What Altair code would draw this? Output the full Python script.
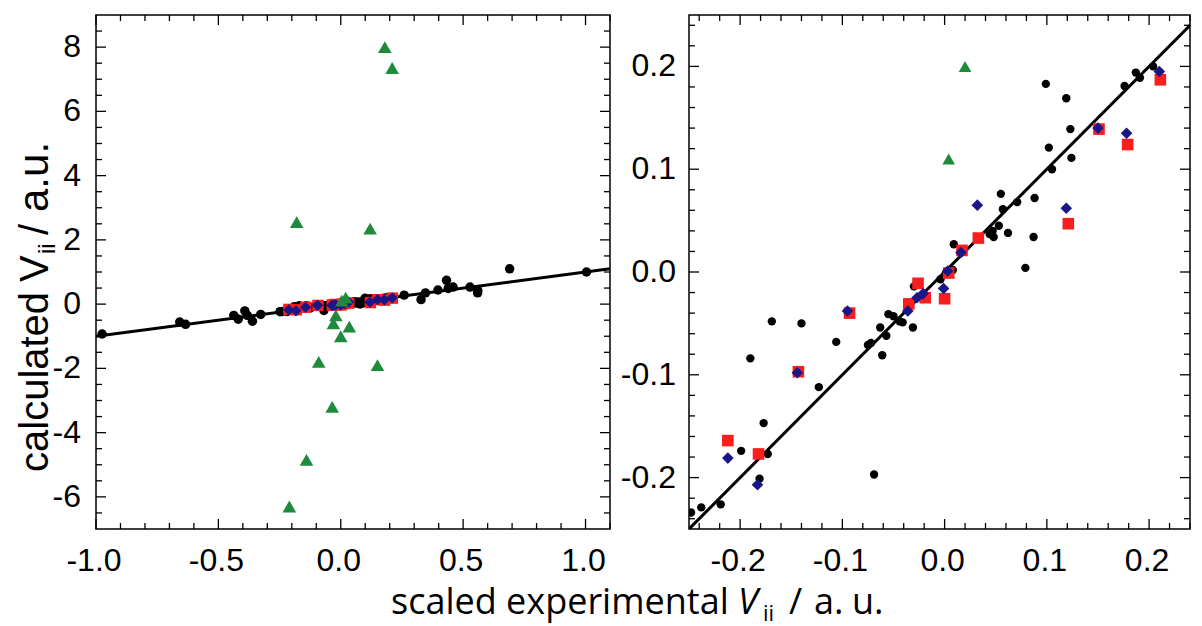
import altair as alt
import pandas as pd

# ---------------- data ----------------
# black circles
black_x = [-0.975, -0.658, -0.634, -0.437, -0.419, -0.392, -0.382, -0.361, -0.327,
           0.259, 0.328, 0.346, 0.397, 0.432, 0.439, 0.459, 0.528, 0.559, 0.56, 0.69, 1.004,
           -0.248, -0.238, -0.219, -0.199, -0.19, -0.181, -0.177, -0.173, -0.169, -0.14,
           -0.123, -0.106, -0.075, -0.072, -0.069, -0.063, -0.061, -0.057, -0.055, -0.05,
           -0.044, -0.041, -0.031, -0.03, -0.004, 0.001, 0.008, 0.009, 0.044, 0.048,
           0.047, 0.053, 0.055, 0.057, 0.062, 0.071, 0.079, 0.087, 0.088, 0.099,
           0.102, 0.105, 0.119, 0.123, 0.124, 0.176, 0.187, 0.191, 0.204]
black_y = [-0.93, -0.56, -0.63, -0.35, -0.47, -0.21, -0.35, -0.53, -0.32,
           0.28, 0.14, 0.35, 0.44, 0.74, 0.49, 0.53, 0.53, 0.35, 0.42, 1.1, 1.0,
           -0.234, -0.229, -0.226, -0.174, -0.084, -0.201, -0.147, -0.177, -0.048, -0.05,
           -0.112, -0.068, -0.071, -0.069, -0.197, -0.054, -0.081, -0.062, -0.041, -0.043,
           -0.048, -0.049, -0.054, -0.014, -0.007, -0.002, 0.002, 0.027, 0.037, 0.034,
           0.04, 0.045, 0.076, 0.061, 0.038, 0.068, 0.004, 0.034, 0.072, 0.183,
           0.121, 0.1, 0.169, 0.139, 0.111, 0.181, 0.194, 0.189, 0.2]
# red squares
red_x = [-0.212, -0.182, -0.143, -0.093, -0.035, -0.026, -0.019, 0.0, 0.004, 0.017,
         0.033, 0.121, 0.151, 0.179, 0.211]
red_y = [-0.164, -0.177, -0.097, -0.04, -0.031, -0.011, -0.025, -0.026, -0.001, 0.021,
         0.033, 0.047, 0.139, 0.124, 0.187]
# blue diamonds
blue_x = [-0.212, -0.183, -0.144, -0.095, -0.036, -0.027, -0.021, -0.001, 0.003, 0.016,
          0.032, 0.119, 0.15, 0.178, 0.21]
blue_y = [-0.181, -0.207, -0.098, -0.038, -0.038, -0.025, -0.021, -0.016, 0.001, 0.019,
          0.065, 0.062, 0.14, 0.135, 0.195]
# green triangles
green_x = [0.18, 0.21, -0.18, 0.12, 0.02, 0.004, -0.02, -0.03, 0.035, 0.0, -0.09, 0.15,
           -0.035, -0.14, -0.21]
green_y = [8.0, 7.35, 2.55, 2.35, 0.2, 0.11, -0.35, -0.6, -0.7, -1.0, -1.8, -1.9,
           -3.2, -4.85, -6.3]
# identity line y = x
line_x = [-1.0, 1.1]
line_y = [-1.0, 1.1]

# axis ticks and tick labels
L_xmajor = [-1.0, -0.5, 0.0, 0.5, 1.0]
L_xlabels = ["-1.0", "-0.5", "0.0", "0.5", "1.0"]
L_xminor = [-0.9, -0.8, -0.7, -0.6, -0.4, -0.3, -0.2, -0.1, 0.1, 0.2, 0.3, 0.4,
            0.6, 0.7, 0.8, 0.9, 1.1]
L_ymajor = [-6, -4, -2, 0, 2, 4, 6, 8]
L_ylabels = ["-6", "-4", "-2", "0", "2", "4", "6", "8"]
L_yminor = [-6.5, -5.5, -5, -4.5, -3.5, -3, -2.5, -1.5, -1, -0.5, 0.5, 1, 1.5,
            2.5, 3, 3.5, 4.5, 5, 5.5, 6.5, 7, 7.5, 8.5]
R_major = [-0.2, -0.1, 0.0, 0.1, 0.2]
R_labels = ["-0.2", "-0.1", "0.0", "0.1", "0.2"]
R_minor = [-0.24, -0.22, -0.18, -0.16, -0.14, -0.12, -0.08, -0.06, -0.04, -0.02,
           0.02, 0.04, 0.06, 0.08, 0.12, 0.14, 0.16, 0.18, 0.22, 0.24]

x_title_parts = ["scaled experimental", "V", "ii", "/", "a.", "u."]
y_title_parts = ["calculated", "V", "ii", "/", "a.u."]

FONT = "Liberation Sans"
TFONT = "Open Sans"
LABEL_SIZE = 32

black = pd.DataFrame({"x": black_x, "y": black_y})
red = pd.DataFrame({"x": red_x, "y": red_y})
blue = pd.DataFrame({"x": blue_x, "y": blue_y})
green = pd.DataFrame({"x": green_x, "y": green_y})
line = pd.DataFrame({"x": line_x, "y": line_y})


def tick_layers(xs, ys, w, h, xmaj, xmin, ymaj, ymin):
    layers = []
    for vals, ln in ((xmaj, 10), (xmin, 6)):
        d = pd.DataFrame({"v": vals})
        for y0, y1 in ((0, ln), (h, h - ln)):
            layers.append(alt.Chart(d).mark_rule(color="black", strokeWidth=1.3).encode(
                x=alt.X("v:Q", scale=xs, axis=None), y=alt.value(y0), y2=alt.value(y1)))
    for vals, ln in ((ymaj, 10), (ymin, 6)):
        d = pd.DataFrame({"v": vals})
        for x0, x1 in ((0, ln), (w, w - ln)):
            layers.append(alt.Chart(d).mark_rule(color="black", strokeWidth=1.3).encode(
                y=alt.Y("v:Q", scale=ys, axis=None), x=alt.value(x0), x2=alt.value(x1)))
    return layers


def label_layers(xs, ys, h, xvals, xlabs, yvals, ylabs, ypad):
    xl = alt.Chart(pd.DataFrame({"v": xvals, "t": xlabs})).mark_text(
        align="center", baseline="top", font=FONT, fontSize=LABEL_SIZE, color="black",
        dx=-2).encode(x=alt.X("v:Q", scale=xs, axis=None), y=alt.value(h + 17), text="t:N")
    yl = alt.Chart(pd.DataFrame({"v": yvals, "t": ylabs})).mark_text(
        align="right", baseline="middle", font=FONT, fontSize=LABEL_SIZE, color="black").encode(
        y=alt.Y("v:Q", scale=ys, axis=None), x=alt.value(-ypad), text="t:N")
    return [xl, yl]


def series(df, shape, color, size, xs, ys):
    return alt.Chart(df).mark_point(shape=shape, filled=True, color=color, size=size,
                                    opacity=1, strokeWidth=0, clip=True).encode(
        x=alt.X("x:Q", scale=xs, axis=None), y=alt.Y("y:Q", scale=ys, axis=None))


def text_layer(s, x, y, size, font, angle=0, italic=False):
    return alt.Chart(pd.DataFrame({"t": [s]})).mark_text(
        align="left", baseline="alphabetic", font=font, fontSize=size,
        fontStyle="italic" if italic else "normal", angle=angle, color="black").encode(
        text="t:N", x=alt.value(x), y=alt.value(y))


RED = "#f81e1e"
BLUE = "#1a1688"
GREEN = "#1f8a3c"

# ---------------- left panel ----------------
LW, LH = 514, 514
lxs = alt.Scale(domain=[-1.0, 1.1], nice=False, zero=False)
lys = alt.Scale(domain=[-7, 9], nice=False, zero=False)
left_layers = tick_layers(lxs, lys, LW, LH, L_xmajor, L_xminor, L_ymajor, L_yminor)
left_layers += label_layers(lxs, lys, LH, L_xmajor, L_xlabels, L_ymajor, L_ylabels, 15)
left_layers += [
    alt.Chart(line).mark_line(color="black", strokeWidth=3, clip=True).encode(
        x=alt.X("x:Q", scale=lxs, axis=None), y=alt.Y("y:Q", scale=lys, axis=None)),
    series(black, "circle", "black", 90, lxs, lys),
    series(red, "square", RED, 130, lxs, lys),
    series(blue, "diamond", BLUE, 125, lxs, lys),
    series(green, "triangle-up", GREEN, 185, lxs, lys),
    # x title (spans both panels)
    text_layer(x_title_parts[0], 295, 599, 36, TFONT),
    text_layer(x_title_parts[1], 642, 599, 36, TFONT, italic=True),
    text_layer(x_title_parts[2], 667, 606, 22, TFONT),
    text_layer(x_title_parts[3], 693, 599, 36, TFONT),
    text_layer(x_title_parts[4], 718, 599, 36, TFONT),
    text_layer(x_title_parts[5], 756, 599, 36, TFONT),
    # y title (rotated)
    text_layer(y_title_parts[0], -48, 457, 40, FONT, angle=270),
    text_layer(y_title_parts[1], -48, 267, 40, FONT, angle=270),
    text_layer(y_title_parts[2], -41, 239, 24, FONT, angle=270),
    text_layer(y_title_parts[3], -48, 220, 40, FONT, angle=270),
    text_layer(y_title_parts[4], -48, 197, 42, FONT, angle=270),
]
left = alt.layer(*left_layers).properties(width=LW, height=LH)

# ---------------- right panel ----------------
RW, RH = 501, 514
rxs = alt.Scale(domain=[-0.25, 0.24], nice=False, zero=False)
rys = alt.Scale(domain=[-0.25, 0.25], nice=False, zero=False)
right_layers = tick_layers(rxs, rys, RW, RH, R_major, R_minor, R_major, R_minor)
right_layers += label_layers(rxs, rys, RH, R_major, R_labels, R_major, R_labels, 13)
right_layers += [
    alt.Chart(line).mark_line(color="black", strokeWidth=3, clip=True).encode(
        x=alt.X("x:Q", scale=rxs, axis=None), y=alt.Y("y:Q", scale=rys, axis=None)),
    series(black, "circle", "black", 70, rxs, rys),
    series(red, "square", RED, 135, rxs, rys),
    series(blue, "diamond", BLUE, 135, rxs, rys),
    series(green, "triangle-up", GREEN, 160, rxs, rys),
]
right = alt.layer(*right_layers).properties(width=RW, height=RH)

chart = alt.hconcat(left, right, spacing=79, bounds="flush").configure_view(
    stroke="black", strokeWidth=1.5).properties(
    padding={"left": 5, "top": 5, "right": 0, "bottom": 0}, background="white")

chart.save("out.html", embed_options={"renderer": "svg", "actions": False})
